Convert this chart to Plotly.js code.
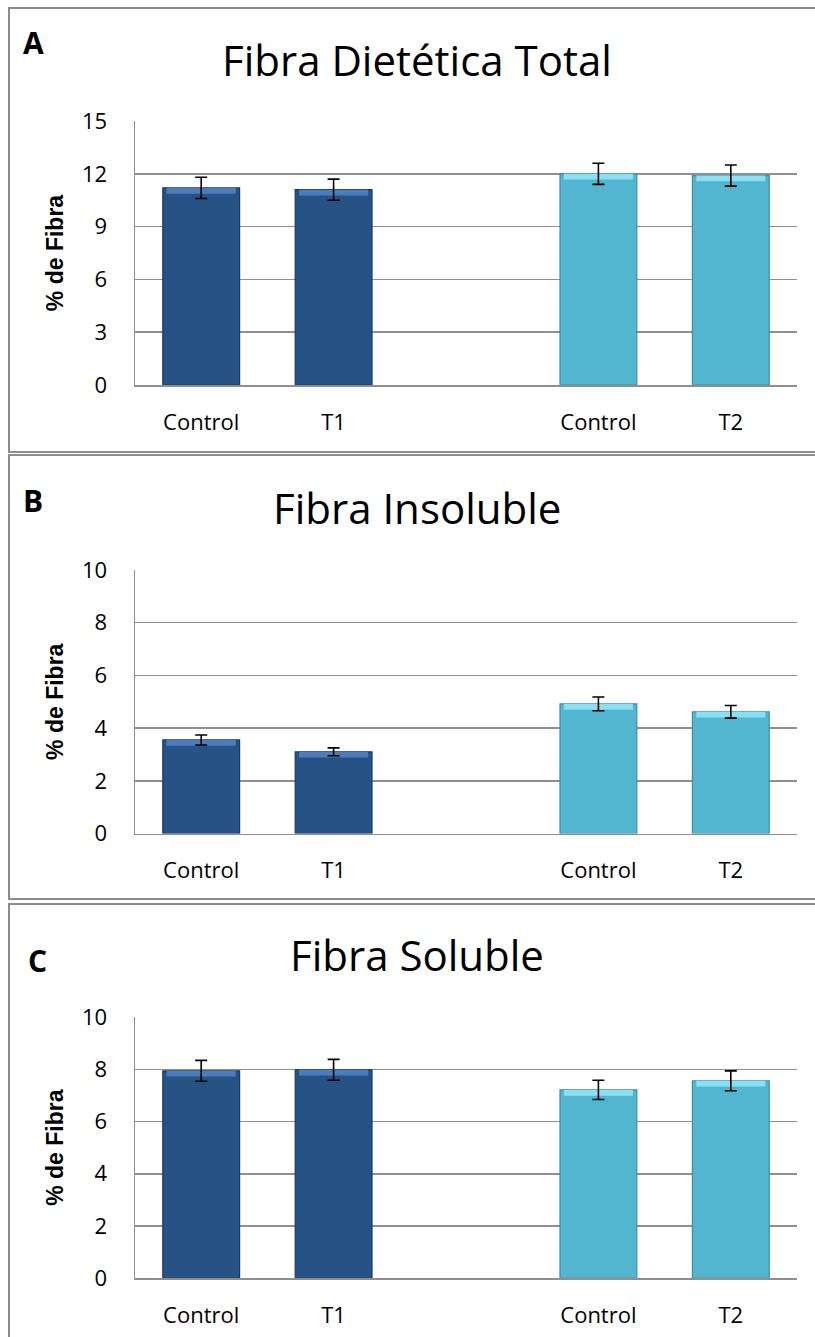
<!DOCTYPE html>
<html>
<head>
<meta charset="utf-8">
<script src="https://cdn.plot.ly/plotly-3.0.1.min.js"></script>
<style>html,body{margin:0;padding:0;background:#fff;}#chart{width:815px;height:1337px;}</style>
</head>
<body>
<div id="chart"></div>
<script>
// ---------- data ----------
const panelLetters = ['A', 'B', 'C'];
const panelTitles = ['Fibra Dietética Total', 'Fibra Insoluble', 'Fibra Soluble'];
const yAxisTitle = '% de Fibra';
const groupLabels = [['Control', 'T1'], ['Control', 'T2']];
const yMax = [15, 10, 10];
const yStep = [3, 2, 2];

// values per panel: [group1 (Control, T1)], [group2 (Control, T2)]
const totalT1 = [11.2, 11.1];
const totalT2 = [12.0, 11.9];
const totalErrT1 = [0.6, 0.6];
const totalErrT2 = [0.6, 0.6];

const insolT1 = [3.55, 3.1];
const insolT2 = [4.92, 4.62];
const insolErrT1 = [0.19, 0.15];
const insolErrT2 = [0.26, 0.24];

const solT1 = [7.94, 7.98];
const solT2 = [7.21, 7.56];
const solErrT1 = [0.40, 0.40];
const solErrT2 = [0.37, 0.38];

const panelValues = [[totalT1, totalT2], [insolT1, insolT2], [solT1, solT2]];
const panelErrors = [[totalErrT1, totalErrT2], [insolErrT1, insolErrT2], [solErrT1, solErrT2]];

// ---------- styling ----------
const H = 1337, W = 815;
const groupColors = ['#265286', '#52b6d0'];
const groupEdges = ['#183a62', '#3a8ea6'];
const groupHighlights = ['#4c7db8', '#8ae0f2'];
const gridCol = '#8f8f8f';
const plotLeft = 135, plotRight = 797;
const plotTops = [121, 570, 1017];
const plotBottoms = [385, 833.5, 1278.3];
const panelBoxes = [[8, 452], [455, 899], [904, 1350]];
const letterPos = [[33, 42], [33, 500], [37, 960]];
const titleY = [60, 507, 954];
const barWidth = 0.58;

const py = y => 1 - y / H;
const px = x => x / W;

const bars = [], highlights = [], errs = [];
const layout = {
  width: W, height: H,
  margin: {l: 0, r: 0, t: 0, b: 0},
  paper_bgcolor: '#ffffff', plot_bgcolor: 'rgba(0,0,0,0)',
  showlegend: false,
  barmode: 'overlay',
  shapes: [], annotations: []
};

for (let p = 0; p < 3; p++) {
  const sfx = p === 0 ? '' : String(p + 1);
  const xa = 'x' + sfx, ya = 'y' + sfx;
  const tickvals = [], ticktext = [];
  const hl = 0.022 * yMax[p];
  for (let g = 0; g < 2; g++) {
    const xs = groupLabels[g].map((_, i) => g * 3 + i);
    xs.forEach((x, i) => { tickvals.push(x); ticktext.push(groupLabels[g][i]); });
    const vals = panelValues[p][g];
    bars.push({
      type: 'bar', x: xs, y: vals, xaxis: xa, yaxis: ya,
      width: barWidth, opacity: 1,
      marker: {color: groupColors[g], line: {color: groupEdges[g], width: 1.2}},
      hoverinfo: 'skip'
    });
    highlights.push({
      type: 'bar', x: xs, y: vals.map(() => hl), base: vals.map(v => v - hl),
      xaxis: xa, yaxis: ya, width: barWidth * 0.9, opacity: 1,
      marker: {color: groupHighlights[g], line: {width: 0}},
      hoverinfo: 'skip'
    });
    errs.push({
      type: 'scatter', mode: 'markers', x: xs, y: vals, xaxis: xa, yaxis: ya,
      marker: {size: 0.1, color: 'rgba(0,0,0,0)'},
      error_y: {type: 'data', array: panelErrors[p][g], visible: true,
                color: '#000000', thickness: 1.6, width: 6},
      hoverinfo: 'skip'
    });
  }
  layout['xaxis' + sfx] = {
    domain: [px(plotLeft), px(plotRight)],
    anchor: ya,
    range: [-0.5, 4.5],
    tickmode: 'array', tickvals: tickvals, ticktext: ticktext,
    showgrid: false, zeroline: false,
    showline: true, linecolor: gridCol, linewidth: 1.5,
    ticks: '', ticklabelstandoff: 17,
    tickfont: {family: 'Open Sans, sans-serif', size: 22, color: '#000'},
    fixedrange: true
  };
  layout['yaxis' + sfx] = {
    domain: [py(plotBottoms[p]), py(plotTops[p])],
    anchor: xa,
    range: [0, yMax[p]],
    dtick: yStep[p], tick0: 0,
    showgrid: true, gridcolor: gridCol, gridwidth: 1.5,
    zeroline: false,
    showline: true, linecolor: gridCol, linewidth: 1.5,
    ticks: '', ticklabelstandoff: 22,
    tickfont: {family: 'Open Sans, sans-serif', size: 22, color: '#000'},
    title: {text: '<b>' + yAxisTitle + '</b>', standoff: 12,
            font: {family: 'Liberation Sans', size: 23, color: '#000'}},
    fixedrange: true
  };
  layout.shapes.push({
    type: 'rect', xref: 'paper', yref: 'paper',
    x0: px(9), x1: px(W + 20), y0: py(panelBoxes[p][1]), y1: py(panelBoxes[p][0]),
    line: {color: '#8c8c8c', width: 2}, fillcolor: 'rgba(0,0,0,0)', layer: 'below'
  });
  layout.annotations.push({
    xref: 'paper', yref: 'paper', x: px(letterPos[p][0]), y: py(letterPos[p][1]),
    xanchor: 'center', yanchor: 'middle', showarrow: false,
    text: '<b>' + panelLetters[p] + '</b>',
    font: {family: 'Open Sans, sans-serif', size: 30, color: '#000'}
  });
  layout.annotations.push({
    xref: 'paper', yref: 'paper', x: px(417), y: py(titleY[p]),
    xanchor: 'center', yanchor: 'middle', showarrow: false,
    text: panelTitles[p],
    font: {family: 'Open Sans, sans-serif', size: 42, color: '#000'}
  });
}

Plotly.newPlot('chart', bars.concat(highlights, errs), layout, {displayModeBar: false, staticPlot: true});
</script>
</body>
</html>
